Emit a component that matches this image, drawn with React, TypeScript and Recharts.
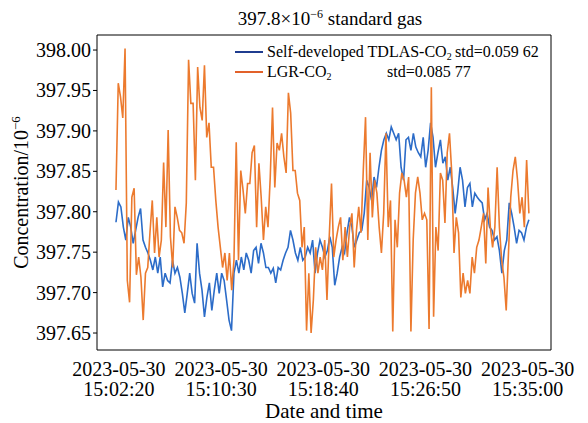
import { LineChart, Line, XAxis, YAxis } from 'recharts'

const serif = '"Liberation Serif", "Times New Roman", serif'

const tickDate = '2023-05-30'
const tickSeconds = [0, 490, 980, 1470, 1960]
const tickTimes = ['15:02:20', '15:10:30', '15:18:40', '15:26:50', '15:35:00']
const yTicks = [397.65, 397.7, 397.75, 397.8, 397.85, 397.9, 397.95, 398.0]

// seconds relative to 15:02:20
const firstSample = -14
const lastSample = 1966

const tdlasValues = [
	397.787, 397.812, 397.806, 397.781, 397.765, 397.793, 397.781, 397.761, 397.777, 397.793,
	397.804, 397.765, 397.756, 397.749, 397.74, 397.728, 397.744, 397.724, 397.744, 397.707,
	397.724, 397.715, 397.712, 397.74, 397.724, 397.731, 397.719, 397.699, 397.675, 397.699,
	397.724, 397.699, 397.687, 397.761, 397.724, 397.703, 397.67, 397.694, 397.712, 397.678,
	397.703, 397.724, 397.699, 397.724, 397.715, 397.691, 397.666, 397.653, 397.724, 397.74,
	397.724, 397.744, 397.728, 397.749, 397.74, 397.724, 397.752, 397.756, 397.736, 397.761,
	397.749, 397.731, 397.731, 397.724, 397.73, 397.712, 397.731, 397.728, 397.74, 397.749,
	397.756, 397.777, 397.765, 397.749, 397.74, 397.756, 397.74, 397.744, 397.756, 397.749,
	397.765, 397.724, 397.749, 397.765, 397.756, 397.744, 397.752, 397.769, 397.756, 397.709,
	397.724, 397.744, 397.756, 397.749, 397.774, 397.793, 397.781, 397.756, 397.765, 397.774,
	397.777, 397.798, 397.839, 397.83, 397.814, 397.843, 397.83, 397.855, 397.876, 397.889,
	397.897, 397.889, 397.905, 397.897, 397.889, 397.897, 397.855, 397.839, 397.889, 397.892,
	397.876, 397.897, 397.88, 397.873, 397.868, 397.892, 397.855, 397.876, 397.91, 397.892,
	397.855, 397.873, 397.889, 397.86, 397.868, 397.839, 397.855, 397.83, 397.798, 397.823,
	397.855, 397.839, 397.806, 397.83, 397.835, 397.806, 397.823, 397.818, 397.814, 397.811,
	397.79, 397.798, 397.781, 397.777, 397.765, 397.769, 397.752, 397.724, 397.752, 397.765,
	397.811, 397.798, 397.781, 397.761, 397.777, 397.774, 397.765, 397.781, 397.79,
]

const lgrValues = [
	397.827, 397.959, 397.942, 397.916, 398.002, 397.715, 397.688, 397.818, 397.829, 397.722,
	397.744, 397.719, 397.666, 397.724, 397.731, 397.775, 397.814, 397.749, 397.793, 397.744,
	397.765, 397.861, 397.781, 397.901, 397.769, 397.731, 397.806, 397.793, 397.777, 397.774,
	397.761, 397.811, 397.988, 397.934, 397.934, 397.839, 397.979, 397.929, 397.913, 397.981,
	397.892, 397.91, 397.855, 397.855, 397.814, 397.781, 397.756, 397.731, 397.749, 397.715,
	397.749, 397.703, 397.74, 397.886, 397.74, 397.851, 397.827, 397.798, 397.835, 397.835,
	397.873, 397.882, 397.781, 397.86, 397.818, 397.765, 397.806, 397.781, 397.843, 397.929,
	397.83, 397.885, 397.876, 397.897, 397.868, 397.848, 397.947, 397.922, 397.851, 397.851,
	397.823, 397.814, 397.756, 397.781, 397.653, 397.724, 397.65, 397.691, 397.756, 397.724,
	397.744, 397.728, 397.765, 397.691, 397.769, 397.835, 397.744, 397.765, 397.781, 397.793,
	397.74, 397.781, 397.744, 397.781, 397.798, 397.731, 397.777, 397.806, 397.774, 397.851,
	397.917, 397.765, 397.873, 397.793, 397.839, 397.823, 397.781, 397.749, 397.798, 397.897,
	397.781, 397.814, 397.652, 397.79, 397.756, 397.823, 397.848, 397.839, 397.818, 397.843,
	397.652, 397.765, 397.823, 397.843, 397.823, 397.79, 397.798, 397.79, 397.655, 397.954,
	397.67, 397.781, 397.752, 397.848, 397.839, 397.786, 397.873, 397.897, 397.848, 397.749,
	397.793, 397.774, 397.694, 397.724, 397.699, 397.715, 397.699, 397.744, 397.724, 397.756,
	397.765, 397.781, 397.798, 397.736, 397.83, 397.781, 397.756, 397.781, 397.855, 397.781,
	397.74, 397.719, 397.678, 397.749, 397.818, 397.851, 397.868, 397.839, 397.798, 397.818,
	397.781, 397.864, 397.798,
]

const toSeries = (values: number[]) =>
	values.map((v, i) => ({
		t: firstSample + (i * (lastSample - firstSample)) / (values.length - 1),
		v,
	}))

const tdlasData = toSeries(tdlasValues)
const lgrData = toSeries(lgrValues)

const xDomain = [-105, 2072]
const yDomain = [397.629, 398.0186]

function TimeTick({ x, y, payload }: any) {
	const idx = tickSeconds.indexOf(payload.value)
	return (
		<g>
			<text x={x} y={y + 26} textAnchor="middle" style={{ fontFamily: serif }} fontSize={20} fill="#000">
				{tickDate}
			</text>
			<text x={x} y={y + 46} textAnchor="middle" style={{ fontFamily: serif }} fontSize={20} fill="#000">
				{tickTimes[idx]}
			</text>
		</g>
	)
}

function ValueTick({ x, y, payload }: any) {
	return (
		<text x={x} y={y + 7} textAnchor="end" style={{ fontFamily: serif }} fontSize={20} fill="#000">
			{payload.value.toFixed(2)}
		</text>
	)
}

function YLabel({ viewBox }: any) {
	const cx = viewBox.x - 16
	const cy = viewBox.y + viewBox.height / 2
	return (
		<text
			x={cx}
			y={cy + 7}
			transform={`rotate(-90 ${cx} ${cy})`}
			textAnchor="middle"
			style={{ fontFamily: serif }}
			fontSize={20}
			fill="#000"
		>
			Concentration/10<tspan dy={-8} fontSize={13}>−6</tspan>
		</text>
	)
}

function XLabel({ viewBox }: any) {
	return (
		<text
			x={viewBox.x + viewBox.width / 2}
			y={viewBox.y + viewBox.height - 5}
			textAnchor="middle"
			style={{ fontFamily: serif }}
			fontSize={21}
			fill="#000"
		>
			Date and time
		</text>
	)
}

export default function App() {
	return (
		<div style={{ position: 'absolute', left: 0, top: 0, width: 588, height: 423, background: '#fff', fontFamily: serif }}>
			<div style={{ position: 'absolute', left: 330, top: 4, transform: 'translateX(-50%)', fontSize: 19, lineHeight: '20px', whiteSpace: 'nowrap', color: '#000' }}>
				397.8×10<sup style={{ fontSize: 12, verticalAlign: 7 }}>−6</sup> standard gas
			</div>
			<LineChart width={588} height={423} margin={{ top: 35, right: 37, bottom: 0, left: 37 }}>
				<XAxis
					xAxisId="b"
					type="number"
					dataKey="t"
					domain={xDomain}
					ticks={tickSeconds}
					interval={0}
					allowDataOverflow
					height={73}
					tickLine={false}
					tickSize={0}
					tickMargin={0}
					axisLine={{ stroke: '#000' }}
					tick={<TimeTick />}
					label={XLabel}
				/>
				<XAxis
					xAxisId="bi"
					type="number"
					dataKey="t"
					domain={xDomain}
					ticks={tickSeconds}
					interval={0}
					allowDataOverflow
					mirror
					height={1}
					tick={false}
					axisLine={false}
					tickSize={5}
					tickLine={{ stroke: '#000' }}
				/>
				<XAxis
					xAxisId="t"
					orientation="top"
					type="number"
					dataKey="t"
					domain={xDomain}
					ticks={tickSeconds}
					interval={0}
					allowDataOverflow
					mirror
					height={1}
					tick={false}
					axisLine={{ stroke: '#000' }}
					tickSize={5}
					tickLine={{ stroke: '#000' }}
				/>
				<YAxis
					yAxisId="l"
					type="number"
					domain={yDomain}
					ticks={yTicks}
					interval={0}
					allowDataOverflow
					width={60}
					tickSize={4}
					tickMargin={2}
					tick={<ValueTick />}
					axisLine={{ stroke: '#000' }}
					tickLine={{ stroke: '#000' }}
					label={YLabel}
				/>
				<YAxis
					yAxisId="li"
					type="number"
					domain={yDomain}
					ticks={yTicks}
					interval={0}
					allowDataOverflow
					mirror
					width={1}
					tick={false}
					axisLine={false}
					tickSize={4}
					tickLine={{ stroke: '#000' }}
				/>
				<YAxis
					yAxisId="r"
					orientation="right"
					type="number"
					domain={yDomain}
					ticks={yTicks}
					interval={0}
					allowDataOverflow
					mirror
					width={1}
					tick={false}
					axisLine={{ stroke: '#000' }}
					tickSize={5}
					tickLine={{ stroke: '#000' }}
				/>
				<Line
					xAxisId="b"
					yAxisId="l"
					data={tdlasData}
					dataKey="v"
					stroke="#2c6cc8"
					strokeWidth={1.6}
					dot={false}
					isAnimationActive={false}
				/>
				<Line
					xAxisId="b"
					yAxisId="l"
					data={lgrData}
					dataKey="v"
					stroke="#ec7a2e"
					strokeWidth={1.6}
					dot={false}
					isAnimationActive={false}
				/>
			</LineChart>
			<div style={{ position: 'absolute', left: 235, top: 51, width: 28, height: 2, background: '#1f3c8f' }} />
			<div style={{ position: 'absolute', left: 267, top: 44, fontSize: 16, lineHeight: '16px', whiteSpace: 'nowrap' }}>
				Self-developed TDLAS-CO<sub style={{ fontSize: 10, verticalAlign: -3 }}>2</sub>
			</div>
			<div style={{ position: 'absolute', left: 455, top: 44, fontSize: 16, lineHeight: '16px', whiteSpace: 'nowrap' }}>
				std=0.059 62
			</div>
			<div style={{ position: 'absolute', left: 235, top: 71, width: 28, height: 2, background: '#e2612a' }} />
			<div style={{ position: 'absolute', left: 267, top: 64, fontSize: 16, lineHeight: '16px', whiteSpace: 'nowrap' }}>
				LGR-CO<sub style={{ fontSize: 10, verticalAlign: -3 }}>2</sub>
			</div>
			<div style={{ position: 'absolute', left: 387, top: 64, fontSize: 16, lineHeight: '16px', whiteSpace: 'nowrap' }}>
				std=0.085 77
			</div>
		</div>
	)
}
